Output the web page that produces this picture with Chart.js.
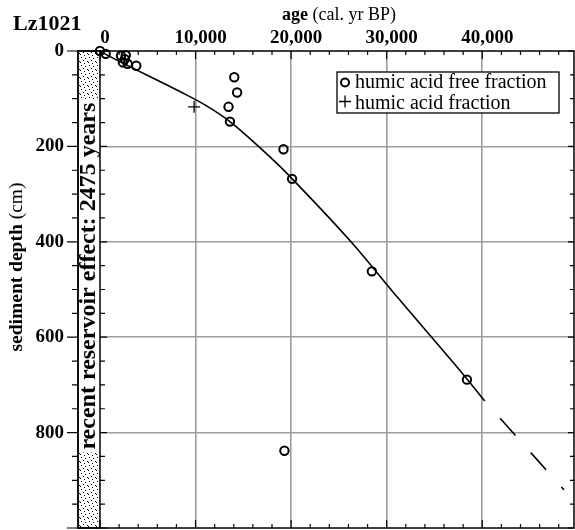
<!DOCTYPE html>
<html>
<head>
<meta charset="utf-8">
<script src="https://cdn.jsdelivr.net/npm/chart.js@4.4.0/dist/chart.umd.min.js"></script>
<style>
html, body { margin: 0; padding: 0; background: #fff; overflow: hidden; }
</style>
</head>
<body>
<canvas id="myChart" width="575" height="530"></canvas>
<script>
// values (age in cal. yr BP, depth in cm)
const freeAge   = [0, 600, 2200, 2700, 2600, 2400, 2900, 3800, 14050, 14350, 13450, 13600, 19200, 20100, 28450, 38400, 19300];
const freeDepth = [0, 6, 10, 9, 17, 24, 27, 31, 55, 87, 117, 148, 206, 268, 462, 689, 838];
const acidAge   = [9850];
const acidDepth = [117];
const modelAge   = [0, 520, 8370, 10980, 13600, 16530, 18830, 20110, 26220, 31200, 38460, 40270];
const modelDepth = [0, 6, 85, 113, 148, 199, 242, 268, 399, 518, 689, 734];
const extAge   = [40270, 48550];
const extDepth = [734, 920];
const ageTicks   = [0, 10000, 20000, 30000, 40000];
const depthTicks = [0, 200, 400, 600, 800];
const reservoir = 2475;

const SERIF = "'Liberation Serif', 'Times New Roman', serif";
const toXY = (xs, ys) => xs.map((v, i) => ({ x: v, y: ys[i] }));

// dotted fill for the reservoir bar
const stipple = (() => {
  const c = document.createElement('canvas');
  c.width = 8; c.height = 8;
  const g = c.getContext('2d');
  g.fillStyle = '#000';
  [[1, 1], [5, 2], [3, 4], [7, 5], [0, 6], [4, 7]].forEach(([px, py]) => g.fillRect(px, py, 1, 1));
  return c;
})();

// keep the tick labels from shrinking the plot area
const fixBox = (s, w, h) => {
  if (w) s.width = w;
  if (h) s.height = h;
  s.paddingLeft = s.paddingRight = s.paddingTop = s.paddingBottom = 0;
};

const decor = {
  id: 'decor',
  beforeDatasetsDraw(chart) {
    const { ctx, chartArea: a, scales: { x, y } } = chart;
    const bx0 = x.getPixelForValue(Math.max(x.min, -reservoir));
    const bx1 = x.getPixelForValue(0);
    ctx.save();
    // reservoir bar
    ctx.fillStyle = ctx.createPattern(stipple, 'repeat');
    ctx.fillRect(bx0, a.top, bx1 - bx0, a.bottom - a.top);
    const txt = 'recent reservoir effect: ' + reservoir + ' years';
    ctx.font = 'bold 24px ' + SERIF;
    const tw = ctx.measureText(txt).width;
    const cy = y.getPixelForValue(472);
    ctx.fillStyle = '#fff';
    ctx.fillRect(bx0, cy - tw / 2 - 3, bx1 - bx0, tw + 6);
    ctx.fillStyle = '#000';
    ctx.translate(bx0 + 17, cy);
    ctx.rotate(-Math.PI / 2);
    ctx.textAlign = 'center';
    ctx.textBaseline = 'alphabetic';
    ctx.fillText(txt, 0, 0);
    ctx.restore();

    ctx.save();
    ctx.strokeStyle = '#000';
    ctx.lineWidth = 1.5;
    ctx.strokeRect(bx0, a.top, bx1 - bx0, a.bottom - a.top);
    ctx.strokeRect(a.left, a.top, a.right - a.left, a.bottom - a.top);
    // tick marks
    ctx.lineWidth = 1.2;
    ctx.beginPath();
    for (let v = 0; v <= x.max; v += 2000) {
      const px = x.getPixelForValue(v);
      const len = v % 10000 === 0 ? 8 : 4;
      ctx.moveTo(px, a.top); ctx.lineTo(px, a.top + len);
      ctx.moveTo(px, a.bottom); ctx.lineTo(px, a.bottom - len);
    }
    for (let d = 0; d <= y.max; d += 50) {
      const py = y.getPixelForValue(d);
      const major = d % 200 === 0;
      ctx.moveTo(a.left, py); ctx.lineTo(a.left - (major ? 11 : 6), py);
      ctx.moveTo(bx1, py); ctx.lineTo(bx1 + (major ? 7 : 5), py);
      ctx.moveTo(a.right, py); ctx.lineTo(a.right - (major ? 6 : 4), py);
    }
    ctx.stroke();
    ctx.restore();
  },
  afterDraw(chart) {
    const { ctx } = chart;
    ctx.save();
    ctx.fillStyle = '#000';
    ctx.textBaseline = 'alphabetic';
    ctx.textAlign = 'left';
    // panel title
    ctx.font = 'bold 22px ' + SERIF;
    ctx.fillText('Lz1021', 13, 30);
    // x axis title
    ctx.font = 'bold 18px ' + SERIF;
    const w1 = ctx.measureText('age ').width;
    ctx.fillText('age ', 282, 20);
    ctx.font = '18px ' + SERIF;
    ctx.fillText('(cal. yr BP)', 282 + w1, 20);
    // y axis title
    ctx.save();
    ctx.translate(22, 267);
    ctx.rotate(-Math.PI / 2);
    ctx.font = 'bold 19.5px ' + SERIF;
    const b = 'sediment depth ';
    const wb = ctx.measureText(b).width;
    ctx.font = '19.5px ' + SERIF;
    const wn = ctx.measureText('(cm)').width;
    const u0 = -(wb + wn) / 2;
    ctx.fillText('(cm)', u0 + wb, 0);
    ctx.font = 'bold 19.5px ' + SERIF;
    ctx.fillText(b, u0, 0);
    ctx.restore();
    // legend box
    ctx.fillStyle = '#fff';
    ctx.fillRect(337, 72, 222, 41);
    ctx.strokeStyle = '#000';
    ctx.lineWidth = 1.3;
    ctx.strokeRect(337, 72, 222, 41);
    ctx.lineWidth = 2;
    ctx.beginPath();
    ctx.arc(345, 82.5, 4, 0, Math.PI * 2);
    ctx.stroke();
    ctx.lineWidth = 1.3;
    ctx.beginPath();
    ctx.moveTo(339, 101.5); ctx.lineTo(351, 101.5);
    ctx.moveTo(345, 95.5); ctx.lineTo(345, 107.5);
    ctx.stroke();
    ctx.fillStyle = '#000';
    ctx.font = '20px ' + SERIF;
    ctx.fillText('humic acid free fraction', 355, 87.5);
    ctx.fillText('humic acid fraction', 355, 108.5);
    ctx.restore();
  }
};

const gridColor = ctx => (ctx.tick && ctx.tick.value > 0 ? '#9c9c9c' : 'rgba(0,0,0,0)');

const myChart = new Chart(document.getElementById('myChart'), {
  type: 'scatter',
  data: {
    datasets: [
      {
        label: 'humic acid free fraction',
        data: toXY(freeAge, freeDepth),
        pointStyle: 'circle',
        pointRadius: 4.2,
        borderWidth: 2,
        borderColor: '#000',
        backgroundColor: 'rgba(0,0,0,0)',
        clip: false
      },
      {
        label: 'humic acid fraction',
        data: toXY(acidAge, acidDepth),
        pointStyle: 'cross',
        pointRadius: 6,
        borderWidth: 1.3,
        borderColor: '#000',
        clip: false
      },
      {
        label: 'age model',
        data: toXY(modelAge, modelDepth),
        showLine: true,
        pointRadius: 0,
        borderColor: '#000',
        borderWidth: 1.6,
        cubicInterpolationMode: 'monotone'
      },
      {
        label: 'extrapolation',
        data: toXY(extAge, extDepth),
        showLine: true,
        pointRadius: 0,
        borderColor: '#000',
        borderWidth: 1.6,
        borderDash: [23, 23],
        borderDashOffset: 23
      }
    ]
  },
  options: {
    responsive: false,
    animation: false,
    layout: { autoPadding: false, padding: { left: 0, top: 0, right: 1, bottom: 2 } },
    plugins: {
      legend: { display: false },
      tooltip: { enabled: false }
    },
    scales: {
      x: {
        type: 'linear',
        position: 'top',
        min: -2300,
        max: 49600,
        afterBuildTicks: s => { s.ticks = ageTicks.map(v => ({ value: v })); },
        afterFit: s => fixBox(s, 0, 51),
        ticks: {
          font: { family: SERIF, size: 19, weight: 'bold' },
          color: '#000',
          padding: 2,
          labelOffset: 5,
          maxRotation: 0,
          autoSkip: false,
          callback: v => v.toLocaleString('en-US')
        },
        grid: { color: gridColor, lineWidth: 1.6, drawTicks: false },
        border: { display: false }
      },
      y: {
        type: 'linear',
        reverse: true,
        min: 0,
        max: 1000,
        afterBuildTicks: s => { s.ticks = depthTicks.map(v => ({ value: v })); },
        afterFit: s => fixBox(s, 78, 0),
        ticks: {
          font: { family: SERIF, size: 19, weight: 'bold' },
          color: '#000',
          padding: 14,
          autoSkip: false
        },
        grid: { color: gridColor, lineWidth: 1.6, drawTicks: false },
        border: { display: false }
      }
    }
  },
  plugins: [decor]
});
</script>
</body>
</html>
